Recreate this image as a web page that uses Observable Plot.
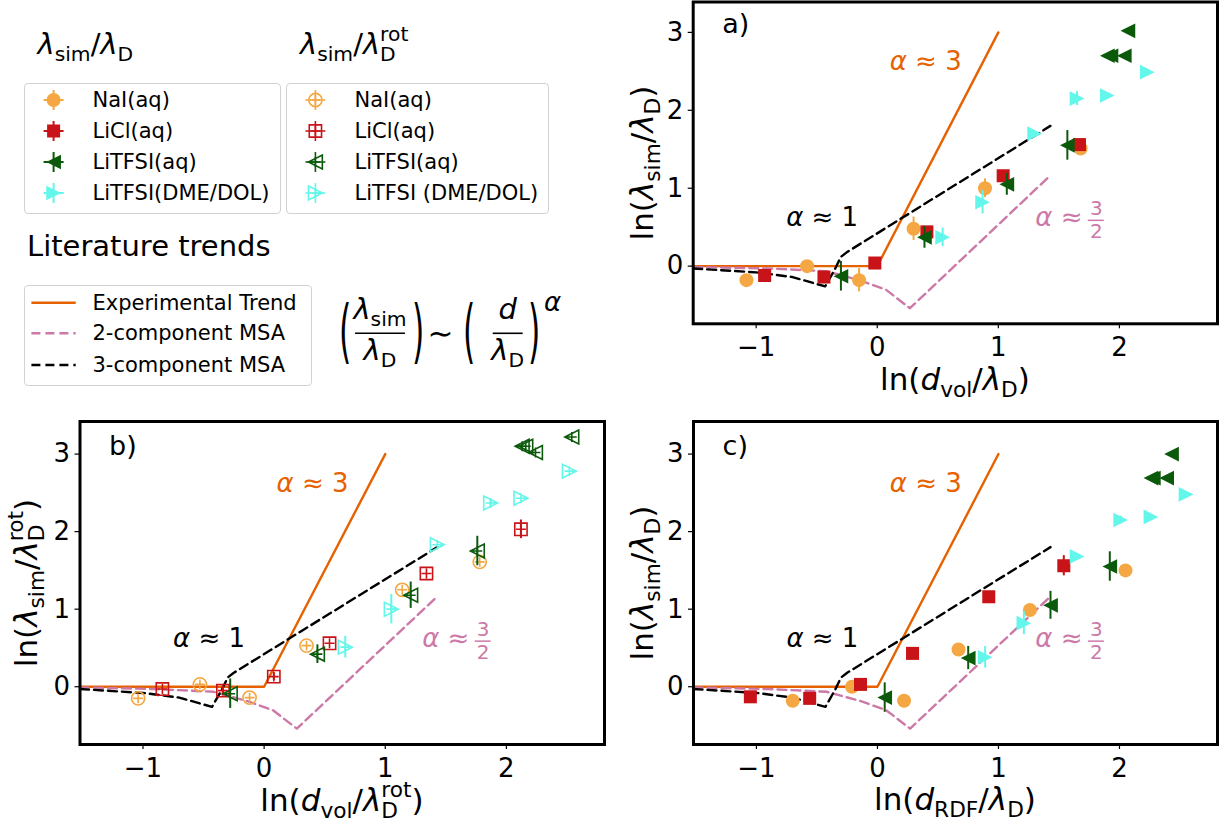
<!DOCTYPE html>
<html>
<head>
<meta charset="utf-8">
<script src="https://cdn.jsdelivr.net/npm/d3@7"></script>
<script src="https://cdn.jsdelivr.net/npm/@observablehq/plot@0.6"></script>
<style>
html,body{margin:0;padding:0;background:#fff;}
#root{position:relative;width:1225px;height:824px;overflow:hidden;font-family:"DejaVu Sans",sans-serif;color:#000;}
.abs{position:absolute;white-space:nowrap;line-height:1;}
.sb{font-size:0.7em;position:relative;top:0.33em;font-style:normal;line-height:0.8;}
.sp{font-size:0.7em;position:relative;top:-0.64em;font-style:normal;line-height:0.8;}
.box{position:absolute;border:1px solid #d2d2d2;border-radius:4px;box-sizing:border-box;background:rgba(255,255,255,0.8);}
</style>
</head>
<body>
<div id="root"></div>
<script>
// ---------------- data ----------------
const xDomain = [-1.52, 2.81];
const yDomainA = [-0.74, 3.39];
const yDomainBC = [-0.745, 3.42];
const xTicks = [-1, 0, 1, 2];
const yTicks = [0, 1, 2, 3];

const seriesNames = ["NaI(aq)", "LiCl(aq)", "LiTFSI(aq)", "LiTFSI(DME/DOL)"];
const seriesNamesRot = ["NaI(aq)", "LiCl(aq)", "LiTFSI(aq)", "LiTFSI (DME/DOL)"];
const seriesColors = ["#f4a742", "#c81418", "#0b5a0b", "#62f7ea"];
const seriesShapes = ["circle", "square", "left", "right"];

// panel a: ln(d_vol/λD) vs ln(λsim/λD)
const aNaIX = [-1.08, -0.58, -0.15, 0.30, 0.89, 1.68];
const aNaIY = [-0.18, 0.00, -0.18, 0.48, 1.00, 1.51];
const aNaIE = [0, 0, 0.15, 0.15, 0.12, 0.07];
const aLiClX = [-0.93, -0.44, -0.02, 0.41, 1.04, 1.67];
const aLiClY = [-0.12, -0.14, 0.04, 0.44, 1.16, 1.56];
const aLiClE = [0, 0, 0, 0, 0, 0.07];
const aTfsiX = [-0.30, 0.39, 1.07, 1.57, 1.90, 1.93, 2.04, 2.07];
const aTfsiY = [-0.13, 0.37, 1.05, 1.55, 2.70, 2.70, 2.70, 3.02];
const aTfsiE = [0.19, 0.14, 0.14, 0.19, 0, 0, 0, 0];
const aDmeX = [0.54, 0.87, 1.30, 1.65, 1.90, 2.23];
const aDmeY = [0.37, 0.82, 1.70, 2.15, 2.19, 2.49];
const aDmeE = [0.12, 0.15, 0, 0.09, 0, 0];

// panel b: ln(d_vol/λD_rot) vs ln(λsim/λD_rot)
const bNaIX = [-1.04, -0.53, -0.12, 0.35, 1.14, 1.78];
const bNaIY = [-0.15, 0.03, -0.14, 0.53, 1.25, 1.61];
const bNaIE = [0, 0, 0, 0, 0, 0];
const bLiClX = [-0.84, -0.34, 0.08, 0.54, 1.34, 2.12];
const bLiClY = [-0.03, -0.05, 0.13, 0.56, 1.46, 2.03];
const bLiClE = [0, 0.05, 0.05, 0, 0, 0.12];
const bTfsiX = [-0.28, 0.44, 1.21, 1.76, 2.13, 2.16, 2.24, 2.54];
const bTfsiY = [-0.09, 0.42, 1.18, 1.75, 3.10, 3.10, 3.02, 3.22];
const bTfsiE = [0.19, 0.12, 0.17, 0.19, 0, 0, 0, 0];
const bDmeX = [0.67, 1.05, 1.43, 1.87, 2.12, 2.52];
const bDmeY = [0.51, 1.00, 1.83, 2.37, 2.43, 2.78];
const bDmeE = [0.14, 0.19, 0, 0.05, 0, 0];

// panel c: ln(d_RDF/λD) vs ln(λsim/λD)
const cNaIX = [-0.70, -0.21, 0.22, 0.67, 1.26, 2.05];
const cNaIY = [-0.18, 0.00, -0.18, 0.48, 0.99, 1.50];
const cNaIE = [0, 0, 0, 0, 0, 0];
const cLiClX = [-1.05, -0.56, -0.14, 0.29, 0.92, 1.54];
const cLiClY = [-0.13, -0.15, 0.03, 0.43, 1.16, 1.56];
const cLiClE = [0, 0, 0, 0, 0, 0.13];
const cTfsiX = [0.06, 0.75, 1.43, 1.92, 2.26, 2.28, 2.39, 2.43];
const cTfsiY = [-0.14, 0.37, 1.05, 1.55, 2.69, 2.69, 2.69, 3.00];
const cTfsiE = [0.19, 0.15, 0.18, 0.19, 0, 0, 0, 0];
const cDmeX = [0.89, 1.21, 1.65, 2.01, 2.26, 2.55];
const cDmeY = [0.38, 0.82, 1.68, 2.15, 2.19, 2.48];
const cDmeE = [0.14, 0.15, 0, 0.05, 0, 0];

// literature trends
const trendNames = ["Experimental Trend", "2-component MSA", "3-component MSA"];
const trendColors = ["#e66100", "#cc79a7", "#000000"];
const trendExpX = [-1.52, 0, 1];
const trendExpY = [0, 0, 3];
const trendMsa2X = [-1.52, -0.9, -0.42, -0.15, 0.07, 0.27, 1.42];
const trendMsa2Y = [-0.01, -0.03, -0.065, -0.18, -0.30, -0.54, 1.15];
const trendMsa3X = [-1.52, -1.0, -0.7, -0.43, -0.35, -0.30, -0.25, 1.43];
const trendMsa3Y = [-0.03, -0.08, -0.14, -0.26, -0.04, 0.12, 0.18, 1.80];

// annotations (data coordinates)
const annText = ["α ≈ 3", "α ≈ 1", "α ≈"];
const annX = [0.40, -0.455, 1.305];
const annY = [2.62, 0.62, 0.62];
const annAnchor = ["middle", "middle", "start"];
const annColor = ["#e66100", "#000000", "#cc79a7"];
const fracNum = "3", fracDen = "2";
const panelLabelX = -1.28, panelLabelY = 3.1;

// ---------------- helpers ----------------
const root = document.getElementById("root");
const zipRows = (xs, ys, es) => xs.map((x, i) => ({x, y: ys[i], e: es ? es[i] : 0}));

function makeSymbol(kind, open) {
  return {
    draw(ctx, size) {
      const r = Math.sqrt(size / Math.PI);
      if (kind === "circle") { ctx.moveTo(r, 0); ctx.arc(0, 0, r, 0, 2 * Math.PI); }
      else if (kind === "square") { const s = r * 0.93; ctx.moveTo(-s, -s); ctx.lineTo(s, -s); ctx.lineTo(s, s); ctx.lineTo(-s, s); ctx.closePath(); }
      else if (kind === "left") { const s = r * 1.05; ctx.moveTo(-s, 0); ctx.lineTo(s, -s); ctx.lineTo(s, s); ctx.closePath(); }
      else { const s = r * 1.05; ctx.moveTo(s, 0); ctx.lineTo(-s, -s); ctx.lineTo(-s, s); ctx.closePath(); }
      if (open) { const c = r * 0.75; ctx.moveTo(-c, 0); ctx.lineTo(c, 0); ctx.moveTo(0, -c); ctx.lineTo(0, c); }
    }
  };
}

function panelPlot(cfg) {
  const marks = [];
  marks.push(Plot.line(zipRows(trendExpX, trendExpY), {x: "x", y: "y", stroke: trendColors[0], strokeWidth: 2.4}));
  marks.push(Plot.line(zipRows(trendMsa2X, trendMsa2Y), {x: "x", y: "y", stroke: trendColors[1], strokeWidth: 2.4, strokeDasharray: "9,5"}));
  marks.push(Plot.line(zipRows(trendMsa3X, trendMsa3Y), {x: "x", y: "y", stroke: trendColors[2], strokeWidth: 2.4, strokeDasharray: "9,5"}));
  cfg.series.forEach((s, i) => {
    const data = zipRows(s[0], s[1], s[2]);
    const col = seriesColors[i];
    marks.push(Plot.ruleX(data.filter(d => d.e > 0), {x: "x", y1: d => d.y - d.e, y2: d => d.y + d.e, stroke: col, strokeWidth: 2}));
    marks.push(Plot.dot(data, {x: "x", y: "y", r: cfg.open ? 6.6 : 7, symbol: makeSymbol(seriesShapes[i], cfg.open),
      fill: cfg.open ? "none" : col, stroke: cfg.open ? col : "none", strokeWidth: 1.6}));
  });
  annText.forEach((t, i) => {
    marks.push(Plot.text([{x: annX[i], y: annY[i], t}], {x: "x", y: "y", text: "t", fill: annColor[i], fontSize: 26, textAnchor: annAnchor[i]}));
  });
  marks.push(Plot.text([{x: annX[2], y: annY[2], t: fracNum}], {x: "x", y: "y", text: "t", fill: annColor[2], fontSize: 20, dx: 61, dy: -9, textAnchor: "middle"}));
  marks.push(Plot.text([{x: annX[2], y: annY[2], t: fracDen}], {x: "x", y: "y", text: "t", fill: annColor[2], fontSize: 20, dx: 61, dy: 13.5, textAnchor: "middle"}));
  marks.push(Plot.text([{x: panelLabelX, y: panelLabelY, t: cfg.label}], {x: "x", y: "y", text: "t", fill: "black", fontSize: 27, textAnchor: "start"}));
  marks.push(Plot.axisX({ticks: xTicks, tickSize: 5, tickPadding: 9, fontSize: 26, strokeWidth: 1.2, label: null,
    tickFormat: d => (d < 0 ? "\u2212" + (-d) : String(d))}));
  marks.push(Plot.axisY({ticks: yTicks, tickSize: 5, tickPadding: 5, fontSize: 26, strokeWidth: 1.2, label: null,
    tickFormat: d => String(d)}));
  marks.push(Plot.frame({stroke: "black", strokeWidth: 3}));
  const svg = Plot.plot({
    width: cfg.width, height: cfg.height,
    marginLeft: cfg.ml, marginRight: cfg.mr, marginTop: cfg.mt, marginBottom: cfg.mb,
    x: {domain: xDomain, label: null},
    y: {domain: cfg.yDomain, label: null},
    style: {fontFamily: '"DejaVu Sans", sans-serif', background: "transparent", overflow: "visible", color: "black"},
    marks
  });
  // italic alpha
  d3.select(svg).selectAll("text").each(function () {
    const t = this.textContent;
    if (t.startsWith("α")) {
      this.textContent = "";
      d3.select(this).append("tspan").attr("font-style", "italic").text("α");
      d3.select(this).append("tspan").text(t.slice(1));
    }
  });
  // fraction bar of 3/2
  const sx = svg.scale("x"), sy = svg.scale("y");
  const px = sx.apply(annX[2]) + 61, py = sy.apply(annY[2]) + 3;
  d3.select(svg).append("line").attr("x1", px - 8).attr("x2", px + 8).attr("y1", py).attr("y2", py)
    .attr("stroke", annColor[2]).attr("stroke-width", 1.5);
  svg.style.position = "absolute";
  svg.style.left = cfg.left + "px";
  svg.style.top = cfg.top + "px";
  root.appendChild(svg);
}

function placeText(html, o) {
  const d = document.createElement("div");
  d.className = "abs";
  d.style.fontSize = o.size + "px";
  d.style.top = (o.baseline - 0.846 * o.size) + "px";
  d.style.left = o.left + "px";
  if (o.color) d.style.color = o.color;
  const tr = [];
  if (o.anchor === "middle") tr.push("translateX(-50%)");
  if (o.transform) tr.push(o.transform);
  if (tr.length) d.style.transform = tr.join(" ");
  if (o.origin) d.style.transformOrigin = o.origin;
  d.innerHTML = html;
  root.appendChild(d);
  return d;
}
function yLabel(html, cx, cy, size) {
  const d = document.createElement("div");
  d.className = "abs";
  d.style.fontSize = size + "px";
  d.style.left = cx + "px";
  d.style.top = cy + "px";
  d.style.transform = "translate(-50%,-50%) rotate(-90deg)";
  d.innerHTML = html;
  root.appendChild(d);
}
const L = "<i>λ</i>";
const sb = t => `<span class="sb">${t}</span>`;
const subsup = (s, p) => `<span class="sb">${s}</span><span class="sp" style="margin-left:-${0.77 * s.length}em">${p}</span>`;

// ---------------- panels ----------------
panelPlot({label: "a)", left: 600, top: 0, width: 625, height: 400, ml: 92.7, mr: 8, mt: 1.5, mb: 76.7, yDomain: yDomainA, open: false,
  series: [[aNaIX, aNaIY, aNaIE], [aLiClX, aLiClY, aLiClE], [aTfsiX, aTfsiY, aTfsiE], [aDmeX, aDmeY, aDmeE]]});
panelPlot({label: "b)", left: 0, top: 400, width: 612, height: 410, ml: 79.5, mr: 8, mt: 21, mb: 66, yDomain: yDomainBC, open: true,
  series: [[bNaIX, bNaIY, bNaIE], [bLiClX, bLiClY, bLiClE], [bTfsiX, bTfsiY, bTfsiE], [bDmeX, bDmeY, bDmeE]]});
panelPlot({label: "c)", left: 612, top: 400, width: 613, height: 410, ml: 81, mr: 8, mt: 21, mb: 66, yDomain: yDomainBC, open: false,
  series: [[cNaIX, cNaIY, cNaIE], [cLiClX, cLiClY, cLiClE], [cTfsiX, cTfsiY, cTfsiE], [cDmeX, cDmeY, cDmeE]]});

// axis labels
const AF = 31;
placeText(`ln(<i>d</i>${sb("vol")}/${L}${sb("D")})`, {left: 955, baseline: 390.5, size: AF, anchor: "middle"});
placeText(`ln(<i>d</i>${sb("vol")}/${L}${subsup("D", "rot")})`, {left: 342, baseline: 811, size: AF, anchor: "middle"});
placeText(`ln(<i>d</i>${sb("RDF")}/${L}${sb("D")})`, {left: 955, baseline: 810, size: AF, anchor: "middle"});
yLabel(`ln(${L}${sb("sim")}/${L}${sb("D")})`, 642.3, 162.5, AF);
yLabel(`ln(${L}${sb("sim")}/${L}${subsup("D", "rot")})`, 26.3, 582.5, AF);
yLabel(`ln(${L}${sb("sim")}/${L}${sb("D")})`, 642.3, 582.5, AF);

// ---------------- legend area ----------------
placeText(`${L}${sb("sim")}/${L}${sb("D")}`, {left: 37.5, baseline: 55, size: 29});
placeText(`${L}${sb("sim")}/${L}${subsup("D", "rot")}`, {left: 300, baseline: 55, size: 29});
placeText("Literature trends", {left: 27, baseline: 257, size: 29});

function box(l, t, w, h) {
  const d = document.createElement("div");
  d.className = "box";
  Object.assign(d.style, {left: l + "px", top: t + "px", width: w + "px", height: h + "px"});
  root.appendChild(d);
}
box(23.5, 82.5, 257, 131);
box(285.5, 82.5, 263.5, 131);
box(23.5, 285, 288, 101);

const rowY = [100, 131, 162, 193];
seriesNames.forEach((n, i) => placeText(n, {left: 92.5, baseline: rowY[i] + 7.7, size: 21}));
seriesNamesRot.forEach((n, i) => placeText(n, {left: 354.5, baseline: rowY[i] + 7.7, size: 21}));
const lineRowY = [302.7, 333.3, 365];
trendNames.forEach((n, i) => placeText(n, {left: 92.5, baseline: lineRowY[i] + 7.7, size: 21}));

const ov = d3.select(root).append("svg").attr("width", 1225).attr("height", 824)
  .style("position", "absolute").style("left", "0px").style("top", "0px").style("pointer-events", "none");
function swatch(cx, cy, i, open) {
  const g = ov.append("g").attr("transform", `translate(${cx},${cy})`);
  const col = seriesColors[i];
  g.append("path").attr("d", "M-10,0H10M0,-10V10").attr("stroke", col).attr("stroke-width", open ? 1.6 : 2);
  const r = open ? 6.6 : 7;
  g.append("path").attr("d", d3.symbol(makeSymbol(seriesShapes[i], open), Math.PI * r * r)())
    .attr("fill", open ? "none" : col).attr("stroke", open ? col : "none").attr("stroke-width", 1.6);
}
seriesNames.forEach((n, i) => swatch(53.6, rowY[i], i, false));
seriesNamesRot.forEach((n, i) => swatch(315.4, rowY[i], i, true));
trendNames.forEach((n, i) => {
  ov.append("line").attr("x1", 31.4).attr("x2", 75.7).attr("y1", lineRowY[i]).attr("y2", lineRowY[i])
    .attr("stroke", trendColors[i]).attr("stroke-width", 2.4).attr("stroke-dasharray", i === 0 ? null : "9,5");
});

// formula  (λsim/λD) ~ (d/λD)^α
const PF = 70;
const parenT = "scaleX(0.45)";
placeText("(", {left: 339, baseline: 355.5, size: PF, transform: parenT, origin: "left center"});
placeText(")", {left: 412, baseline: 355.5, size: PF, transform: parenT, origin: "left center"});
placeText("(", {left: 462.5, baseline: 355.5, size: PF, transform: parenT, origin: "left center"});
placeText(")", {left: 528, baseline: 355.5, size: PF, transform: parenT, origin: "left center"});
placeText(`${L}${sb("sim")}`, {left: 380, baseline: 320, size: 29, anchor: "middle"});
placeText(`${L}${sb("D")}`, {left: 380, baseline: 361, size: 29, anchor: "middle"});
placeText(`<i>d</i>`, {left: 507.7, baseline: 320, size: 29, anchor: "middle"});
placeText(`${L}${sb("D")}`, {left: 507.7, baseline: 361, size: 29, anchor: "middle"});
placeText("∼", {left: 440.5, baseline: 344.5, size: 31, anchor: "middle"});
placeText("<i>α</i>", {left: 544, baseline: 311, size: 26});
ov.append("line").attr("x1", 355).attr("x2", 405).attr("y1", 333.3).attr("y2", 333.3).attr("stroke", "black").attr("stroke-width", 1.6);
ov.append("line").attr("x1", 492.7).attr("x2", 522.7).attr("y1", 333.3).attr("y2", 333.3).attr("stroke", "black").attr("stroke-width", 1.6);
</script>
</body>
</html>
